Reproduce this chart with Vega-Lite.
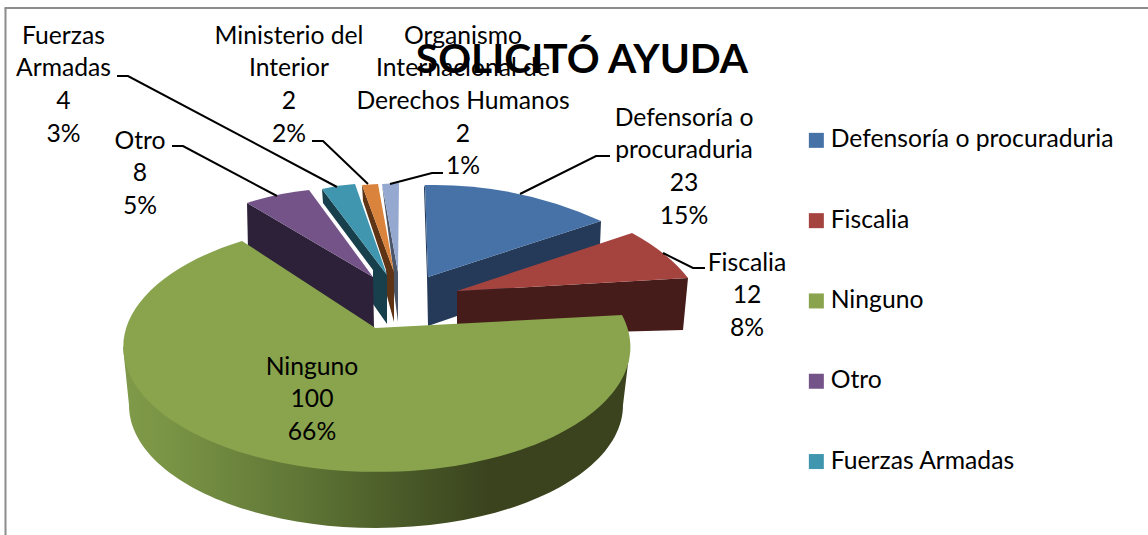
{
"$schema":"https://vega.github.io/schema/vega-lite/v6.json",
"width":1148,"height":535,"autosize":{"type":"none"},"padding":0,"background":"white",
"config":{"view":{"stroke":null},"font":"Lato"},
"title":{"text":"SOLICITÓ AYUDA","font":"Lato","fontSize":40.7,"fontWeight":"bold","color":"#000000","anchor":"middle","dx":8,"dy":82,"offset":0},
"data":{"values":[
{"category":"Organismo Internacional de Derechos Humanos","value":2,"percent":"1%","label":"Organismo\nInternacional de\nDerechos Humanos\n2\n1%"},
{"category":"Ministerio del Interior","value":2,"percent":"2%","label":"Ministerio del\nInterior\n2\n2%"},
{"category":"Fuerzas Armadas","value":4,"percent":"3%","label":"Fuerzas\nArmadas\n4\n3%"},
{"category":"Otro","value":8,"percent":"5%","label":"Otro\n8\n5%"},
{"category":"Defensoría o procuraduria","value":23,"percent":"15%","label":"Defensoría o\nprocuraduria\n23\n15%"},
{"category":"Fiscalia","value":12,"percent":"8%","label":"Fiscalia\n12\n8%"},
{"category":"Ninguno","value":100,"percent":"66%","label":"Ninguno\n100\n66%"}
]},
"layer":[
{"data":{"values":[{"frame":"top edge"}]},
 "mark":{"type":"rule","stroke":"#8c8c8c","strokeWidth":2},
 "encoding":{"x":{"datum":4.5,"scale":{"domain":[0,1148],"range":[0,1148],"nice":false},"axis":null},"x2":{"datum":1148},"y":{"datum":8,"scale":{"domain":[0,535],"range":[0,535],"nice":false},"axis":null}}},
{"data":{"values":[{"frame":"left edge"}]},
 "mark":{"type":"rule","stroke":"#8c8c8c","strokeWidth":2},
 "encoding":{"x":{"datum":5.5,"scale":{"domain":[0,1148],"range":[0,1148],"nice":false},"axis":null},"y":{"datum":8,"scale":{"domain":[0,535],"range":[0,535],"nice":false},"axis":null},"y2":{"datum":535}}},
{"transform":[{"filter":"datum.category==='Ninguno'"}],
 "mark":{"type":"point","filled":true,"opacity":1,"size":4,"strokeWidth":0,
  "shape":"M-451,79.5 L56,79.5 L49,137.5 A247 123 0 0 1 -445,137.5 Z",
  "fill":{"gradient":"linear","x1":0,"y1":0,"x2":1,"y2":0,"stops":[{"offset":0,"color":"#7f9a49"},{"offset":0.09,"color":"#7a9445"},{"offset":0.35,"color":"#5f7636"},{"offset":0.55,"color":"#4a5a28"},{"offset":0.72,"color":"#3a431e"},{"offset":1,"color":"#3a431e"}]}},
 "encoding":{}},
{"transform":[{"filter":"datum.category!=='Ninguno'"}],
 "mark":{"type":"point","filled":true,"opacity":1,"size":4,"strokeWidth":0},
 "encoding":{
  "shape":{"field":"category","type":"nominal","legend":null,"sort":null,"scale":{
   "domain":["Organismo Internacional de Derechos Humanos","Ministerio del Interior","Fuerzas Armadas","Otro","Defensoría o procuraduria","Fiscalia"],
   "range":[
    "M-192,-83.5 L-176,4.5 L-176,54.5 L-180,24.5 L-181,0.5 L-190,-67.5 Z",
    "M-212,-82.5 L-180,4.5 L-180,54.5 L-187,28.5 L-188,2.5 L-211,-66.5 Z",
    "M-252,-78.5 L-187,7.5 L-187,56.5 L-201,36.5 L-201,2.5 L-251,-64.5 Z",
    "M-327,-64.5 L-201,9.5 L-200,60.5 L-326,-17.5 Z",
    "M-149,-82.5 L-146,9.5 L27,-46.5 L26,-22.5 L-117,48.5 L-146,58.5 L-147,9.5 L-150,-80 Z",
    "M-117,23.5 L114,10.5 L109,62.5 L-117,68.5 Z"]}},
  "color":{"field":"category","type":"nominal","legend":null,"scale":{
   "domain":["Organismo Internacional de Derechos Humanos","Ministerio del Interior","Fuerzas Armadas","Otro","Defensoría o procuraduria","Fiscalia"],
   "range":["#4a5568","#5e3415","#183f4c","#2c2138","#253a58","#451c1a"]}}}},
{"mark":{"type":"point","filled":true,"opacity":1,"size":4,"strokeWidth":0},
 "encoding":{
  "shape":{"field":"category","type":"nominal","legend":null,"scale":{
   "domain":["Organismo Internacional de Derechos Humanos","Ministerio del Interior","Fuerzas Armadas","Otro","Defensoría o procuraduria","Fiscalia","Ninguno"],
   "range":[
    "M-176,4.5 L-192,-83.5 L-175,-84.5 Z",
    "M-180,4.5 L-212,-82.5 L-196,-83.5 Z",
    "M-187,7.5 L-252,-78.5 Q-236,-82.5 -219,-83.5 Z",
    "M-201,9.5 L-327,-64.5 Q-296,-74.5 -265,-77.5 Z",
    "M-146,9.5 L-149,-82.5 Q-57,-84.5 27,-46.5 Z",
    "M-117,23.5 L58,-34.5 Q94,-15 114,10.5 Z",
    "M-198.5,60.5 L-332,-26.5 A253.5 125 0 1 0 48,47.5 Z"]}},
  "color":{"field":"category","type":"nominal","scale":{
   "domain":["Defensoría o procuraduria","Fiscalia","Ninguno","Otro","Fuerzas Armadas","Ministerio del Interior","Organismo Internacional de Derechos Humanos"],
   "range":["#4672a8","#a5433f","#89a44d","#745389","#4096af","#d9833c","#95a9d0"]},
   "legend":{"values":["Defensoría o procuraduria","Fiscalia","Ninguno","Otro","Fuerzas Armadas"],"orient":"none","legendX":804,"legendY":128,"title":null,"symbolType":"square","symbolSize":225,"symbolStrokeWidth":0,"labelFontSize":24.7,"labelFont":"Lato","labelColor":"#000000","labelLimit":400,"rowPadding":54.3,"labelOffset":2}}}},
{"transform":[{"filter":"datum.category!=='Ninguno'"}],
 "mark":{"type":"point","filled":false,"opacity":1,"size":4,"strokeWidth":2,"stroke":"#000000"},
 "encoding":{
  "shape":{"field":"category","type":"nominal","legend":null,"scale":{
   "domain":["Organismo Internacional de Derechos Humanos","Ministerio del Interior","Fuerzas Armadas","Otro","Defensoría o procuraduria","Fiscalia"],
   "range":[
    "M-131,-94.5 L-142,-94.5 L-184,-83.5",
    "M-262,-126.5 L-251,-126.5 L-206,-83.5",
    "M-457,-191.5 L-446,-191.5 L-237,-80.5",
    "M-402,-121.5 L-391,-121.5 L-297,-71.5",
    "M36,-111.5 L22,-111.5 L-54,-73.5",
    "M131,0.5 L119,0.5 L89,-14.5"]}}}},
{"transform":[{"filter":"datum.category==='Fuerzas Armadas'"}],"mark":{"type":"text","fontSize":24.7,"font":"Lato","lineBreak":"\n","lineHeight":32.7,"baseline":"middle","align":"center","color":"#000000"},
 "encoding":{"text":{"field":"label"},"x":{"datum":63.5,"scale":{"domain":[0,1148],"range":[0,1148],"nice":false},"axis":null},"y":{"datum":36.5,"scale":{"domain":[0,535],"range":[0,535],"nice":false},"axis":null}}},
{"transform":[{"filter":"datum.category==='Ministerio del Interior'"}],"mark":{"type":"text","fontSize":24.7,"font":"Lato","lineBreak":"\n","lineHeight":32.7,"baseline":"middle","align":"center","color":"#000000"},
 "encoding":{"text":{"field":"label"},"x":{"datum":289,"scale":{"domain":[0,1148],"range":[0,1148],"nice":false},"axis":null},"y":{"datum":36.5,"scale":{"domain":[0,535],"range":[0,535],"nice":false},"axis":null}}},
{"transform":[{"filter":"datum.category==='Organismo Internacional de Derechos Humanos'"}],"mark":{"type":"text","fontSize":24.7,"font":"Lato","lineBreak":"\n","lineHeight":32.7,"baseline":"middle","align":"center","color":"#000000"},
 "encoding":{"text":{"field":"label"},"x":{"datum":463,"scale":{"domain":[0,1148],"range":[0,1148],"nice":false},"axis":null},"y":{"datum":36.5,"scale":{"domain":[0,535],"range":[0,535],"nice":false},"axis":null}}},
{"transform":[{"filter":"datum.category==='Otro'"}],"mark":{"type":"text","fontSize":24.7,"font":"Lato","lineBreak":"\n","lineHeight":32.7,"baseline":"middle","align":"center","color":"#000000"},
 "encoding":{"text":{"field":"label"},"x":{"datum":140,"scale":{"domain":[0,1148],"range":[0,1148],"nice":false},"axis":null},"y":{"datum":141.5,"scale":{"domain":[0,535],"range":[0,535],"nice":false},"axis":null}}},
{"transform":[{"filter":"datum.category==='Defensoría o procuraduria'"}],"mark":{"type":"text","fontSize":24.7,"font":"Lato","lineBreak":"\n","lineHeight":32.7,"baseline":"middle","align":"center","color":"#000000"},
 "encoding":{"text":{"field":"label"},"x":{"datum":684,"scale":{"domain":[0,1148],"range":[0,1148],"nice":false},"axis":null},"y":{"datum":118.5,"scale":{"domain":[0,535],"range":[0,535],"nice":false},"axis":null}}},
{"transform":[{"filter":"datum.category==='Fiscalia'"}],"mark":{"type":"text","fontSize":24.7,"font":"Lato","lineBreak":"\n","lineHeight":32.7,"baseline":"middle","align":"center","color":"#000000"},
 "encoding":{"text":{"field":"label"},"x":{"datum":747,"scale":{"domain":[0,1148],"range":[0,1148],"nice":false},"axis":null},"y":{"datum":263.5,"scale":{"domain":[0,535],"range":[0,535],"nice":false},"axis":null}}},
{"transform":[{"filter":"datum.category==='Ninguno'"}],"mark":{"type":"text","fontSize":24.7,"font":"Lato","lineBreak":"\n","lineHeight":32.7,"baseline":"middle","align":"center","color":"#000000"},
 "encoding":{"text":{"field":"label"},"x":{"datum":312,"scale":{"domain":[0,1148],"range":[0,1148],"nice":false},"axis":null},"y":{"datum":367.5,"scale":{"domain":[0,535],"range":[0,535],"nice":false},"axis":null}}}
],
"resolve":{"scale":{"shape":"independent","color":"independent"}}
}
